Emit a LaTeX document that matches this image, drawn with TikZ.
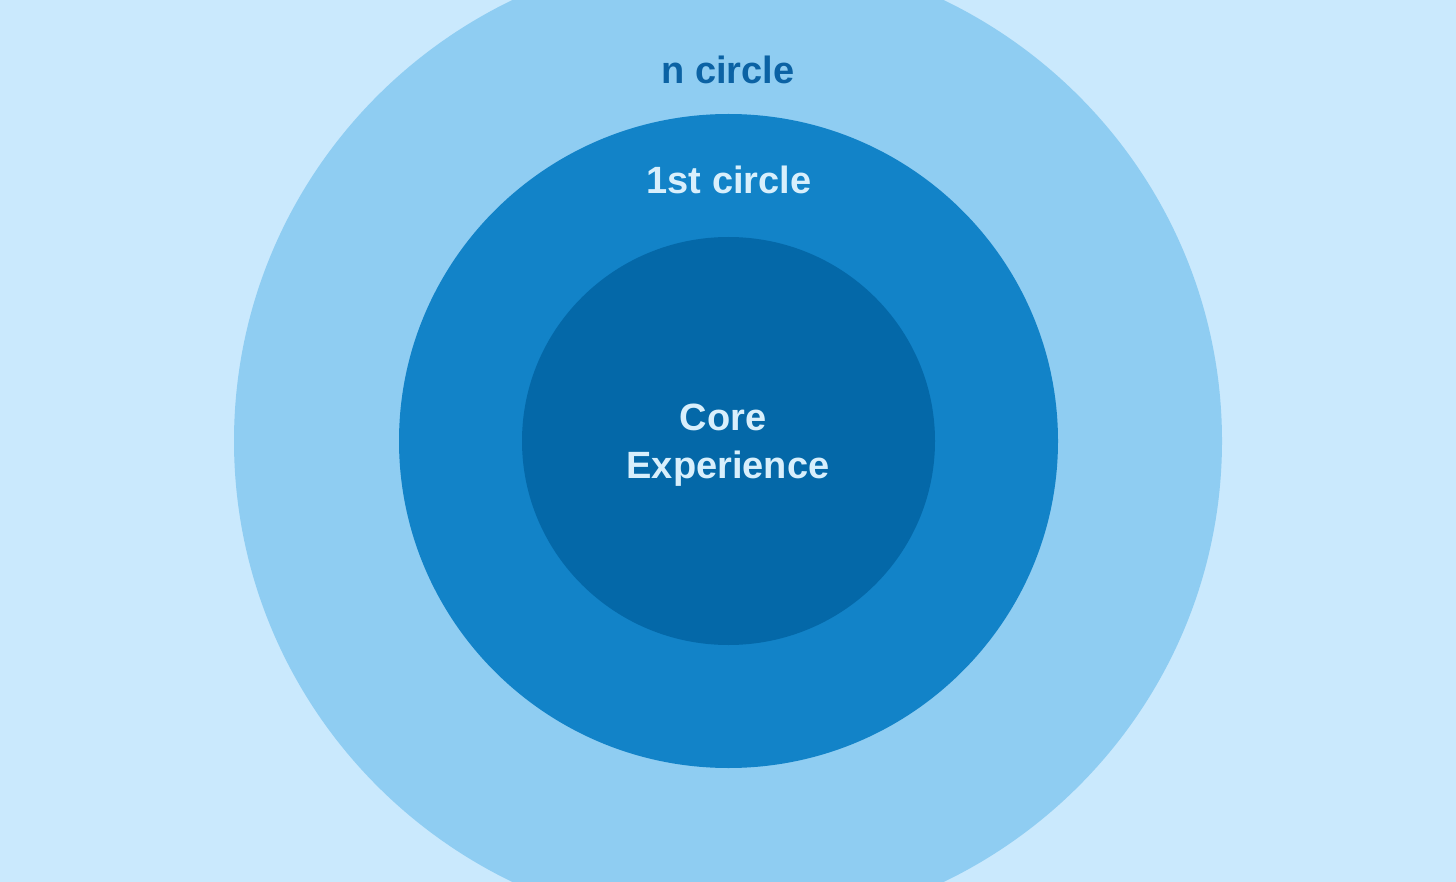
\documentclass[tikz,border=0pt]{standalone}
\usepackage{fontspec}
\setmainfont{Liberation Sans}
\definecolor{bgc}{HTML}{CAE9FD}
\definecolor{outerc}{HTML}{8FCDF2}
\definecolor{midc}{HTML}{1283C8}
\definecolor{innerc}{HTML}{0468A8}
\definecolor{darktxt}{HTML}{0B62A4}
\definecolor{lighttxt}{HTML}{D8EFFC}
\tikzset{
  ring/.style={draw=none},
  lbl/.style={font=\fontsize{38}{48}\selectfont\bfseries, align=center, inner sep=0pt}
}
\begin{document}
\begin{tikzpicture}[x=1pt,y=-1pt]
\useasboundingbox (0,0) rectangle (1456,882);
\clip (0,0) rectangle (1456,882);
\fill[bgc] (0,0) rectangle (1456,882);
\fill[outerc, ring] (728,441) ellipse [x radius=494, y radius=490];
\fill[midc, ring] (728.5,441) ellipse [x radius=329.5, y radius=327];
\fill[innerc, ring] (728.5,441) ellipse [x radius=206.5, y radius=204];
\node[lbl, text=darktxt] (n) at (728,70) {n circle};
\node[lbl, text=lighttxt] (first) at (729,180) {1st circle};
\node[lbl, text=lighttxt] (core) at (728,445) {Core\hspace*{10pt}\\Experience};
\end{tikzpicture}
\end{document}
